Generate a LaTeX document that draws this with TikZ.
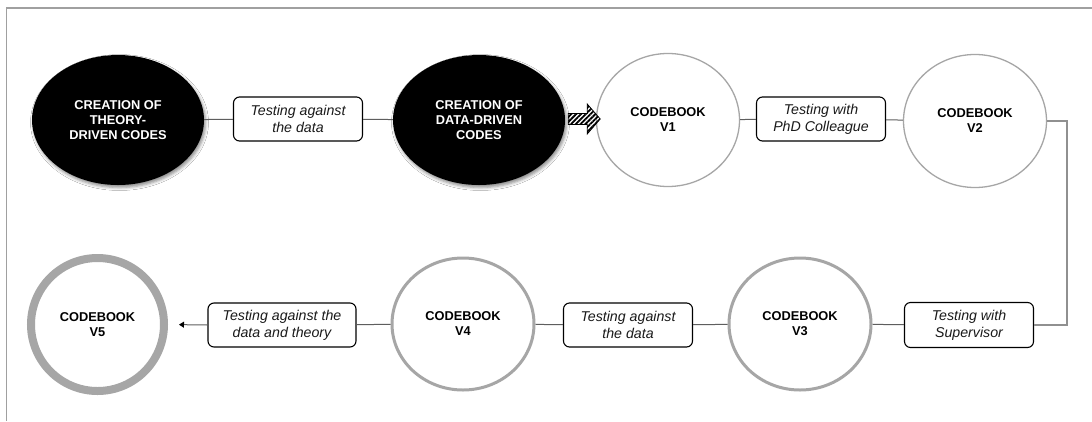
\documentclass[tikz,border=0pt]{standalone}
\usepackage{fontspec}
\setmainfont{Liberation Sans}
\usetikzlibrary{shapes.geometric,arrows.meta,patterns.meta,shadows.blur,calc}
\definecolor{ringgray}{HTML}{A6A6A6}
\definecolor{linkgray}{HTML}{5E5E5E}
\definecolor{framegray}{HTML}{A0A0A0}
\definecolor{inkdark}{HTML}{1A1A1A}
\begin{document}
\begin{tikzpicture}[x=1pt,y=-1pt,
  stage/.style={ellipse, fill=black, text=white, inner sep=0pt, align=center,
    minimum width=172pt, minimum height=130pt,
    font=\bfseries\fontsize{12.8pt}{15pt}\selectfont,
    blur shadow={shadow xshift=1.5pt, shadow yshift=-2.5pt, shadow blur radius=3pt, shadow opacity=45}},
  book/.style={ellipse, draw=ringgray, fill=white, text=black, inner sep=0pt, align=center,
    minimum width=143pt, minimum height=133pt,
    font=\bfseries\fontsize{12.8pt}{15pt}\selectfont},
  test/.style={rectangle, rounded corners=6pt, draw=black, line width=1.1pt, fill=white,
    text=inkdark, inner sep=0pt, align=center, minimum width=129pt, minimum height=44pt,
    font=\itshape\fontsize{14.2pt}{16.7pt}\selectfont},
  link/.style={draw=linkgray, line width=1pt},
  longlink/.style={draw=framegray!90!black, line width=1.3pt}]

\useasboundingbox (0,0) rectangle (1092,421);
\fill[white] (0,0) rectangle (1092,421);
% frame
\draw[framegray, line width=1.5pt] (6.5,421) -- (6.5,8) -- (1092,8);

% upper row
\node[stage] (e1) at (118,120) {CREATION OF\\THEORY-\\DRIVEN CODES};
\node[test] (b1) at (298,119) {Testing against\\the data};
\node[stage] (e2) at (479,120) {CREATION OF\\DATA-DRIVEN\\CODES};
\node[book, line width=1.3pt] (v1) at (668,120) {CODEBOOK\\V1};
\node[test] (b2) at (821,119) {Testing with\\PhD Colleague};
\node[book, line width=1.3pt] (v2) at (975,121) {CODEBOOK\\V2};

% lower row
\node[test, minimum height=45pt] (b3) at (969,325) {Testing with\\Supervisor};
\node[book, line width=3pt, minimum width=142pt, minimum height=132pt] (v3) at (800,324) {CODEBOOK\\V3};
\node[test] (b4) at (628,325) {Testing against\\the data};
\node[book, line width=3pt, minimum width=142pt, minimum height=132pt] (v4) at (463,324) {CODEBOOK\\V4};
\node[test, minimum width=148pt] (b5) at (282,325) {Testing against the\\data and theory};
\node[book, line width=8pt, minimum width=133pt, minimum height=133pt] (v5) at (97.5,324.5) {CODEBOOK\\V5};

% connectors
\draw[link] (e1) -- (b1);
\draw[link] (b1) -- (e2);
\draw[link] (v1) -- (b2);
\draw[link] (b2) -- (v2);
\coordinate (bend) at (1067,0);
\draw[longlink] (v2.east) -| (bend |- b3.east) -- (b3.east);
\draw[link] (b3) -- (v3);
\draw[link] (v3) -- (b4);
\draw[link] (b4) -- (v4);
\draw[link] (v4) -- (b5);
\draw[link, -{Triangle[length=5pt,width=6pt,color=black]}, shorten >=11pt] (b5.west) -- (v5.east);

% striped block arrow into the first codebook
\coordinate (hs) at ($(e2.east)+(3,-1)$);
\draw[black, line width=0.8pt, line join=miter,
      pattern={Lines[angle=45,distance=3.4pt,line width=1.8pt]}, pattern color=black]
  (hs) ++(0,-5.5) -- ++(19,0) -- ++(0,-9.5) -- ++(13,15) -- ++(-13,15) -- ++(0,-9.5) -- ++(-19,0) -- cycle;
\end{tikzpicture}
\end{document}
